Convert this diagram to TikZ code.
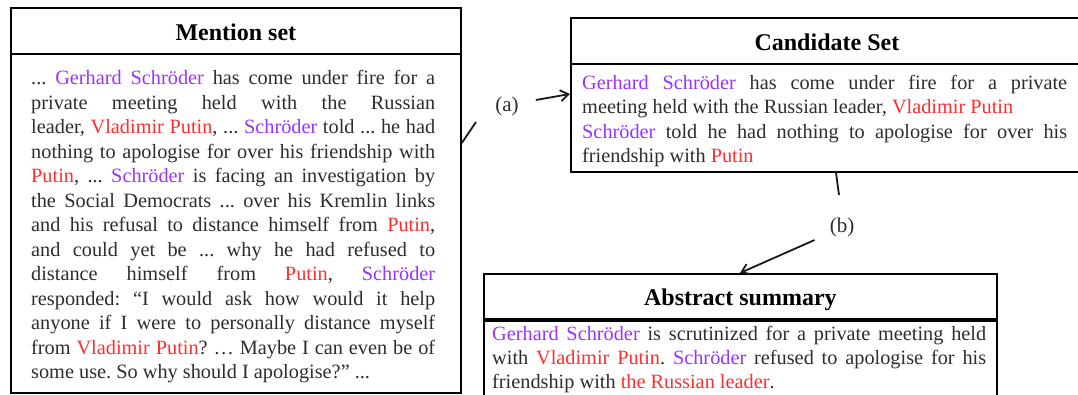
\documentclass[tikz,border=0pt]{standalone}
\usepackage{fontspec}
\setmainfont{Liberation Serif}
\usetikzlibrary{arrows.meta,calc}
\definecolor{pu}{RGB}{153,51,255}
\definecolor{rd}{RGB}{255,45,45}
\definecolor{tx}{RGB}{45,45,45}
\newcommand{\pur}[1]{\textcolor{pu}{#1}}
\newcommand{\rdd}[1]{\textcolor{rd}{#1}}
\newcommand{\jl}[2]{\makebox[#1][s]{#2}}
\frenchspacing
\begin{document}
\begin{tikzpicture}[x=1pt,y=-1pt,
  box/.style={draw=black,line width=1.8pt,rectangle,inner sep=0pt,anchor=north west},
  ttl/.style={font=\fontsize{24}{28}\selectfont\bfseries,text=black,text height=19pt,text depth=0pt},
  bodytxt/.style={font=\fontsize{20.3}{24.5}\selectfont,text=tx,align=left,inner sep=0pt,anchor=north west},
  lab/.style={font=\fontsize{21}{25}\selectfont,text=tx,inner sep=1pt},
  conn/.style={line width=1.8pt,draw=black!90},
  arr/.style={conn,-{Straight Barb[length=8pt,width=11pt,line width=1.8pt]}}]
\useasboundingbox (0,0) rectangle (1078,395);
\clip (0,0) rectangle (1078,395);
% Mention set
\node[box,ttl,minimum width=450pt,minimum height=46pt] (mh) at (10,7) {Mention set};
\node[box,minimum width=450pt,minimum height=339pt] (mb) at (10,53) {};
\node[bodytxt] (mt) at (31,70.5) {%
\jl{404pt}{... \pur{Gerhard Schröder} has come under fire for a}\\
\jl{404pt}{private meeting held with the Russian}\\
\jl{404pt}{leader, \rdd{Vladimir Putin}, ... \pur{Schröder} told ... he had}\\
\jl{404pt}{nothing to apologise for over his friendship with}\\
\jl{404pt}{\rdd{Putin}, ... \pur{Schröder} is facing an investigation by}\\
\jl{404pt}{the Social Democrats ... over his Kremlin links}\\
\jl{404pt}{and his refusal to distance himself from \rdd{Putin},}\\
\jl{404pt}{and could yet be ... why he had refused to}\\
\jl{404pt}{distance himself from \rdd{Putin}, \pur{Schröder}}\\
\jl{404pt}{responded: “I would ask how would it help}\\
\jl{404pt}{anyone if I were to personally distance myself}\\
\jl{404pt}{from \rdd{Vladimir Putin}? … Maybe I can even be of}\\
some use. So why should I apologise?” ...};
% Candidate set
\node[box,ttl,minimum width=512pt,minimum height=46pt] (ch) at (570,17) {Candidate Set};
\node[box,minimum width=512pt,minimum height=108pt] (cb) at (570,63) {};
\node[bodytxt] (ct) at (582,75) {%
\jl{485pt}{\pur{Gerhard Schröder} has come under fire for a private}\\
meeting held with the Russian leader, \rdd{Vladimir Putin}\\
\jl{485pt}{\pur{Schröder} told he had nothing to apologise for over his}\\
friendship with \rdd{Putin}};
% Abstract summary
\node[box,ttl,minimum width=513pt,minimum height=45pt] (ah) at (483,273) {Abstract summary};
\node[box,minimum width=513pt,minimum height=100pt] (ab) at (483,320) {};
\node[bodytxt,font=\fontsize{20.3}{24}\selectfont] (at) at (492,326) {%
\jl{494pt}{\pur{Gerhard Schröder} is scrutinized for a private meeting held}\\
\jl{494pt}{with \rdd{Vladimir Putin}. \pur{Schröder} refused to apologise for his}\\
friendship with \rdd{the Russian leader}.};
% connectors
\coordinate (m2) at (476,122);
\draw[conn] ($(mb.north east)+(0,90)$) -- (m2);
\node[lab] (la) at (507,106) {(a)};
\draw[arr] ($(la.east)+(16,-6)$) -- ($(cb.north west)+(0,31)$);
\coordinate (c2) at (839,195);
\draw[conn] ($(cb.south west)+(266,0)$) -- (c2);
\node[lab] (lb) at (842,227) {(b)};
\draw[arr] ($(lb.west)+(-14,13)$) -- ($(ah.north west)+(257,0)$);
\end{tikzpicture}
\end{document}
